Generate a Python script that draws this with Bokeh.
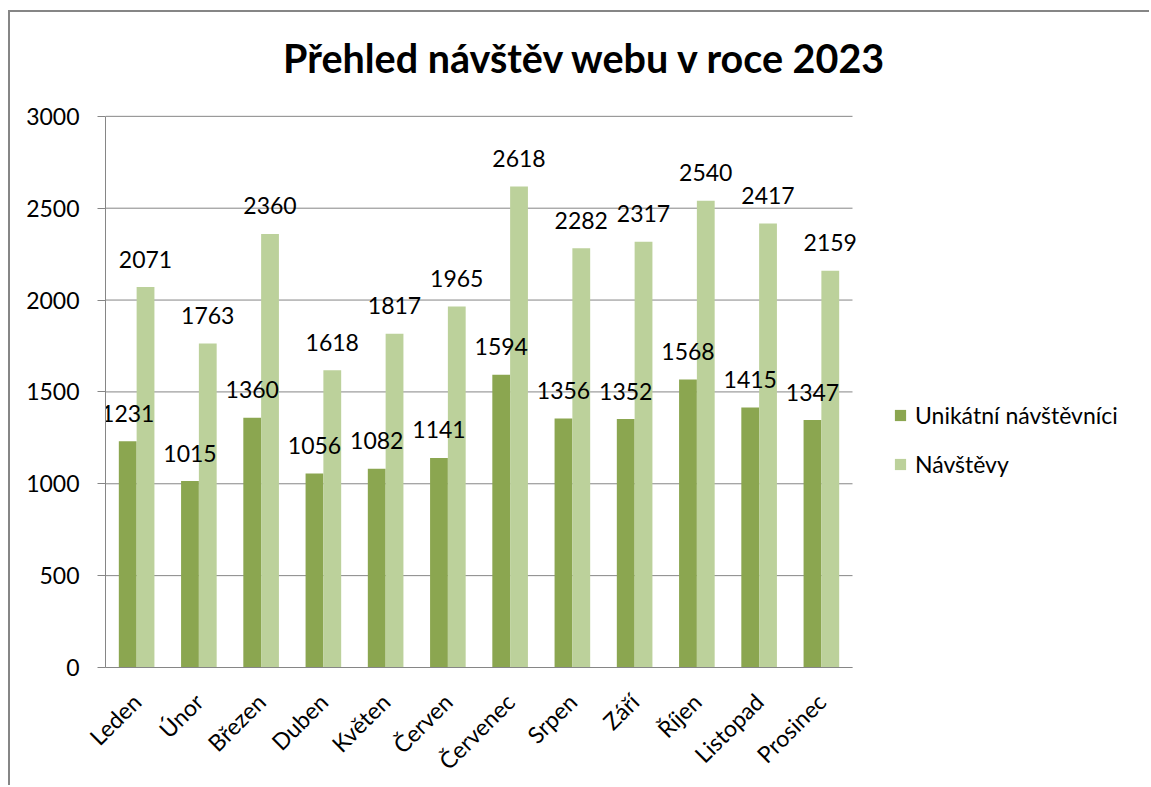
from bokeh.plotting import figure
from bokeh.models import (Range1d, Legend, LegendItem, Label, FixedTicker)
from bokeh.core.properties import value
from bokeh.embed import file_html
from bokeh.resources import INLINE
from math import pi

months = ["Leden", "Únor", "Březen", "Duben", "Květen", "Červen",
          "Červenec", "Srpen", "Září", "Říjen", "Listopad", "Prosinec"]
unikatni = [1231, 1015, 1360, 1056, 1082, 1141, 1594, 1356, 1352, 1568, 1415, 1347]
navstevy = [2071, 1763, 2360, 1618, 1817, 1965, 2618, 2282, 2317, 2540, 2417, 2159]
series_names = ["Unikátní návštěvníci", "Návštěvy"]
y_ticks = [0, 500, 1000, 1500, 2000, 2500, 3000]
title_text = "Přehled návštěv webu v roce 2023"
colors = ["#8BA650", "#BCD19B"]

FONT = "Lato"
GRAY = "#868686"
FS = "23px"

# ---- layout in canvas pixels ----
W, H = 1141, 775
FL, FR_PLOT, FT_PLOT, FB = 95, 842, 104, 656   # plot area (axes box)
n = len(months)
px_per_cat = (FR_PLOT - FL) / n
ymax = y_ticks[-1]
px_per_val = (FB - FT_PLOT) / ymax

def xd(px):   # canvas px -> x data
    return -0.5 + (px - FL) / px_per_cat

def yd(py):   # canvas px -> y data
    return (FB - py) / px_per_val

idx = list(range(n))
x_u = [i - 0.143 for i in idx]
x_n = [i + 0.143 for i in idx]

p = figure(width=W, height=H, output_backend="svg", toolbar_location=None,
           min_border_left=FL, min_border_right=0, min_border_top=0,
           min_border_bottom=H - FB,
           margin=(10, 0, 0, 8),
           styles={"border-top": "2px solid #868686", "border-left": "2px solid #868686"})
p.x_range = Range1d(-0.5, xd(W))
p.y_range = Range1d(0, yd(0))
p.outline_line_color = None
p.xgrid.grid_line_color = None
p.ygrid.grid_line_color = None

# gridlines over the plot area only
p.segment(x0=[-0.5] * len(y_ticks), x1=[n - 0.5] * len(y_ticks), y0=y_ticks, y1=y_ticks,
          line_color=GRAY, line_width=1)

r1 = p.vbar(x=x_u, top=unikatni, width=0.286, color=colors[0], line_color=None)
r2 = p.vbar(x=x_n, top=navstevy, width=0.286, color=colors[1], line_color=None)

p.text(x=x_u, y=unikatni, text=[str(v) for v in unikatni],
       text_align="center", text_baseline="alphabetic", y_offset=-28,
       text_font=value(FONT), text_font_size=FS, text_color="black")
p.text(x=x_n, y=navstevy, text=[str(v) for v in navstevy],
       text_align="center", text_baseline="alphabetic", y_offset=-28,
       text_font=value(FONT), text_font_size=FS, text_color="black")

# axes
p.yaxis.ticker = FixedTicker(ticks=y_ticks)
p.yaxis.bounds = (0, ymax)
p.yaxis.minor_tick_line_color = None
p.yaxis.major_tick_out = 8
p.yaxis.major_tick_in = 0
p.yaxis.axis_line_color = GRAY
p.yaxis.major_tick_line_color = GRAY
p.yaxis.major_label_text_font = FONT
p.yaxis.major_label_text_font_size = FS
p.yaxis.major_label_text_color = "black"
p.yaxis.major_label_standoff = 18

p.xaxis.ticker = FixedTicker(ticks=idx)
p.xaxis.major_label_overrides = {i: m for i, m in zip(idx, months)}
p.xaxis.bounds = (-0.5, n - 0.5)
p.xaxis.axis_line_color = GRAY
p.xaxis.major_tick_line_color = None
p.xaxis.minor_tick_line_color = None
p.xaxis.major_label_orientation = pi / 4
p.xaxis.major_label_text_font = FONT
p.xaxis.major_label_text_font_size = FS
p.xaxis.major_label_text_color = "black"
p.xaxis.major_label_standoff = 24

# title
p.add_layout(Label(x=xd(575), y=yd(45), text=title_text, text_align="center",
                   text_baseline="alphabetic", text_font=FONT, text_font_size="39.5px",
                   text_font_style="bold", text_color="black"))

# legend
legend = Legend(items=[LegendItem(label=series_names[0], renderers=[r1]),
                       LegendItem(label=series_names[1], renderers=[r2])],
                location=(883 - FL, 189), orientation="vertical",
                label_text_font=FONT, label_text_font_size=FS, label_text_color="black",
                glyph_width=14, glyph_height=14, label_standoff=8,
                spacing=21, padding=0, margin=0,
                border_line_color=None, background_fill_alpha=0)
p.add_layout(legend, "center")

open("out.html", "w").write(file_html(p, INLINE))
